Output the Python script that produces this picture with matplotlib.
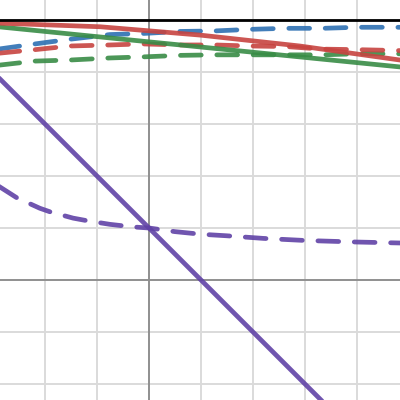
import matplotlib
matplotlib.use("Agg")
from matplotlib import pyplot as plt

# colours (Desmos-like palette)
RED = "#c74440"
BLUE = "#2d70b3"
GREEN = "#388c46"
PURPLE = "#6042a6"

# ---- data ----
purple_line_x = [-3, 5]
purple_line_y = [4, -4]

purple_dash_x = [-2.9, -2.54, -2.10, -1.90, -1.46, -1.19, -0.75, -0.3, 0.0,
                 0.5, 1.0, 1.5, 2.2, 3.0, 4.0, 4.9]
purple_dash_y = [1.81, 1.58, 1.38, 1.31, 1.19, 1.14, 1.07, 1.02, 1.0,
                 0.93, 0.88, 0.85, 0.80, 0.76, 0.73, 0.71]

red_line_x = [-2.9, -0.94, 0.98, 2.9, 4.9]
red_line_y = [4.94, 4.87, 4.71, 4.50, 4.22]

green_line_x = [-2.9, 0.0, 4.9]
green_line_y = [4.87, 4.58, 4.09]

blue_dash_x = [-2.9, -2.19, -1.52, -0.75, -0.13, 0.6, 1.27, 1.94, 2.62, 3.33, 4.0, 4.9]
blue_dash_y = [4.44, 4.54, 4.63, 4.72, 4.74, 4.78, 4.79, 4.82, 4.84, 4.84, 4.86, 4.86]

red_dash_x = [-2.9, -2.19, -1.52, -0.75, -0.13, 0.6, 1.27, 1.94, 2.62, 3.33, 4.0, 4.9]
red_dash_y = [4.36, 4.43, 4.50, 4.52, 4.54, 4.52, 4.52, 4.50, 4.49, 4.44, 4.43, 4.41]

green_dash_x = [-2.9, -2.19, -1.52, -0.75, -0.13, 0.6, 1.27, 1.94, 2.62, 3.33, 4.0, 4.9]
green_dash_y = [4.13, 4.21, 4.23, 4.27, 4.29, 4.32, 4.33, 4.33, 4.33, 4.33, 4.35, 4.35]

black_x = [-3, 5]
black_y = [5, 5]

grid_x = [-2, -1, 1, 2, 3, 4]
grid_y = [-2, -1, 1, 2, 3, 4, 5]

fig = plt.figure(figsize=(4, 4), dpi=100)
ax = fig.add_axes([0, 0, 1, 1])
ax.set_xlim(-149 / 52, 251 / 52)
ax.set_ylim(-120 / 52, 280 / 52)
ax.axis("off")

for gx in grid_x:
  ax.axvline(gx, color="#dadada", lw=1.4, zorder=0)
for gy in grid_y:
  ax.axhline(gy, color="#dadada", lw=1.4, zorder=0)
ax.axvline(0, color="#8f8f8f", lw=1.4, zorder=0)
ax.axhline(0, color="#8f8f8f", lw=1.4, zorder=0)

lw = 3.4
dash = (4.4, 3.3)

ax.plot(black_x, black_y, color="black", lw=2.0, zorder=3)
ax.plot(purple_line_x, purple_line_y, color=PURPLE, lw=lw, alpha=0.9,
        solid_capstyle="round")
ax.plot(purple_dash_x, purple_dash_y, color=PURPLE, lw=lw, alpha=0.9,
        dashes=dash, dash_capstyle="round")
ax.plot(blue_dash_x, blue_dash_y, color=BLUE, lw=lw, alpha=0.9,
        dashes=dash, dash_capstyle="round")
ax.plot(green_dash_x, green_dash_y, color=GREEN, lw=lw, alpha=0.9,
        dashes=dash, dash_capstyle="round")
ax.plot(red_dash_x, red_dash_y, color=RED, lw=lw, alpha=0.9,
        dashes=dash, dash_capstyle="round")
ax.plot(green_line_x, green_line_y, color=GREEN, lw=lw, alpha=0.9)
ax.plot(red_line_x, red_line_y, color=RED, lw=lw, alpha=0.9)

fig.savefig("out.png", dpi=100)
